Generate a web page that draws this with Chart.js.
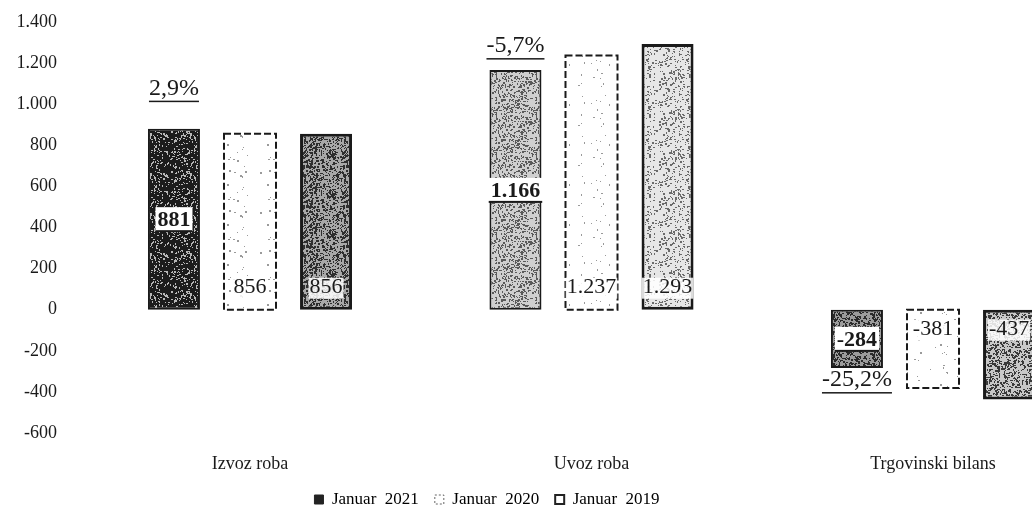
<!DOCTYPE html>
<html>
<head>
<meta charset="utf-8">
<script src="https://cdn.jsdelivr.net/npm/chart.js@4/dist/chart.umd.min.js"></script>
<style>
  html, body { margin: 0; padding: 0; background: #fff; overflow: hidden; }
  #wrap { width: 1032px; height: 525px; }
</style>
</head>
<body>
<div id="wrap"><canvas id="chart" width="1032" height="525"></canvas></div>
<script>
// ---------- Data ----------
const categories = ["Izvoz roba", "Uvoz roba", "Trgovinski bilans"];
const seriesNames = ["Januar  2021", "Januar  2020", "Januar  2019"];
const jan2021 = [881, 1166, -284];
const jan2020 = [856, 1237, -381];
const jan2019 = [856, 1293, -437];
const changeLabels = ["2,9%", "-5,7%", "-25,2%"];
const yTickValues = [1400, 1200, 1000, 800, 600, 400, 200, 0, -200, -400, -600];

// distance of the % label from the bar end (px)
const changeOffsets = [40, 24, 12];

// ---------- Helpers ----------
const SERIF = "'Liberation Serif', 'DejaVu Serif', serif";
const INK = "#1a1a1a";

function fmt(v) {
  const s = String(Math.abs(v)).replace(/\B(?=(\d{3})+(?!\d))/g, ".");
  return (v < 0 ? "-" : "") + s;
}

// scanned-looking speckle fill, deterministic
function speckle(base, dot, density, seed) {
  const c = document.createElement("canvas");
  c.width = 40; c.height = 40;
  const g = c.getContext("2d");
  g.fillStyle = base;
  g.fillRect(0, 0, 40, 40);
  let s = seed;
  const next = () => (s = (s * 16807) % 2147483647) / 2147483647;
  g.fillStyle = dot;
  const n = Math.floor(1600 * density);
  for (let i = 0; i < n; i++) {
    const x = Math.floor(next() * 40);
    const y = Math.floor(next() * 40);
    g.fillRect(x, y, next() > 0.6 ? 2 : 1, next() > 0.7 ? 2 : 1);
  }
  return g.createPattern(c, "repeat");
}

const fill2021 = [
  speckle("#1c1c1c", "#b8b8b8", 0.12, 11),
  speckle("#cfcfcf", "#5a5a5a", 0.22, 23),
  speckle("#9c9c9c", "#2a2a2a", 0.25, 37)
];
const fill2020 = [
  speckle("#ffffff", "#9a9a9a", 0.01, 41),
  speckle("#ffffff", "#9a9a9a", 0.01, 53),
  speckle("#ffffff", "#9a9a9a", 0.01, 67)
];
const fill2019 = [
  speckle("#a8a8a8", "#2e2e2e", 0.3, 71),
  speckle("#e6e6e6", "#6a6a6a", 0.12, 83),
  speckle("#c8c8c8", "#3a3a3a", 0.25, 97)
];

// ---------- Plugins ----------
const dashedBars = {
  id: "dashedBars",
  afterDatasetsDraw(chart) {
    const meta = chart.getDatasetMeta(1);
    const ctx = chart.ctx;
    ctx.save();
    ctx.strokeStyle = INK;
    ctx.lineWidth = 2;
    ctx.setLineDash([7, 3]);
    meta.data.forEach((el) => {
      const { x, y, base, width } = el.getProps(["x", "y", "base", "width"], true);
      const top = Math.min(y, base);
      ctx.strokeRect(x - width / 2, top, width, Math.abs(base - y));
    });
    ctx.restore();
  }
};

const valueLabels = {
  id: "valueLabels",
  afterDatasetsDraw(chart) {
    const ctx = chart.ctx;
    ctx.save();
    ctx.textAlign = "center";
    ctx.textBaseline = "middle";

    chart.data.datasets.forEach((ds, di) => {
      const meta = chart.getDatasetMeta(di);
      meta.data.forEach((el, i) => {
        const v = ds.data[i];
        const { x, y, base } = el.getProps(["x", "y", "base"], true);
        const text = fmt(v);
        if (di === 0) {
          // current year: boxed, bold, centred in the bar
          ctx.font = "bold 22px " + SERIF;
          const w = ctx.measureText(text).width;
          const cy = (y + base) / 2;
          ctx.fillStyle = "#fff";
          ctx.fillRect(x - w / 2 - 2, cy - 12, w + 4, 24);
          ctx.fillStyle = INK;
          ctx.fillText(text, x, cy + 1);
          ctx.fillRect(x - w / 2 - 2, cy + 11, w + 4, 2);
        } else {
          ctx.font = "22px " + SERIF;
          const w = ctx.measureText(text).width;
          const cy = v >= 0 ? base - 22 : base + 20;
          ctx.fillStyle = "rgba(255,255,255,0.85)";
          ctx.fillRect(x - w / 2 - 1, cy - 10, w + 2, 21);
          ctx.fillStyle = INK;
          ctx.fillText(text, x, cy);
        }
      });
    });

    // year-on-year change, underlined
    const meta0 = chart.getDatasetMeta(0);
    ctx.font = "24px " + SERIF;
    meta0.data.forEach((el, i) => {
      const v = chart.data.datasets[0].data[i];
      const { x, y } = el.getProps(["x", "y"], true);
      const cy = v >= 0 ? y - changeOffsets[i] : y + changeOffsets[i];
      const t = changeLabels[i];
      const w = ctx.measureText(t).width;
      ctx.fillStyle = INK;
      ctx.fillText(t, x, cy);
      ctx.fillRect(x - w / 2, cy + 12, w, 1.5);
    });
    ctx.restore();
  }
};

// ---------- Chart ----------
const ctx = document.getElementById("chart").getContext("2d");

new Chart(ctx, {
  type: "bar",
  data: {
    labels: categories,
    datasets: [
      {
        label: seriesNames[0],
        data: jan2021,
        backgroundColor: fill2021,
        borderColor: INK,
        borderWidth: 2,
        borderSkipped: false,
        clip: false
      },
      {
        label: seriesNames[1],
        data: jan2020,
        backgroundColor: fill2020,
        borderWidth: 0,
        clip: false
      },
      {
        label: seriesNames[2],
        data: jan2019,
        backgroundColor: fill2019,
        borderColor: INK,
        borderWidth: 3,
        borderSkipped: false,
        clip: false
      }
    ]
  },
  options: {
    responsive: false,
    animation: false,
    categoryPercentage: 0.668,
    barPercentage: 0.684,
    layout: { padding: { left: 0, right: 58, top: 22, bottom: 7 } },
    plugins: {
      tooltip: { enabled: false },
      legend: {
        position: "bottom",
        labels: {
          font: { family: SERIF, size: 17 },
          color: INK,
          boxWidth: 9,
          boxHeight: 9,
          padding: 16,
          generateLabels() {
            return [
              { text: seriesNames[0], fillStyle: "#222", strokeStyle: "#222", lineWidth: 1, datasetIndex: 0 },
              { text: seriesNames[1], fillStyle: "#fff", strokeStyle: "#666", lineWidth: 1, lineDash: [2, 2], datasetIndex: 1 },
              { text: seriesNames[2], fillStyle: "#fff", strokeStyle: "#222", lineWidth: 2, datasetIndex: 2 }
            ];
          }
        }
      }
    },
    scales: {
      x: {
        offset: false,
        grid: { display: false, drawTicks: false },
        border: { display: false },
        ticks: {
          color: INK,
          font: { family: SERIF, size: 18 },
          padding: 20,
          maxRotation: 0,
          autoSkip: false
        },
        afterFit(scale) { scale.height = 42; }
      },
      y: {
        min: -600,
        max: 1400,
        grid: { display: false, drawTicks: false },
        border: { display: false },
        afterBuildTicks(scale) {
          scale.ticks = yTickValues.map((v) => ({ value: v }));
        },
        ticks: {
          color: INK,
          font: { family: SERIF, size: 18 },
          padding: 193,
          callback: (v) => fmt(v)
        },
        afterFit(scale) {
          scale.width = 250;
          // the big tick padding only shifts labels sideways
          scale.paddingTop = 10;
          scale.paddingBottom = 10;
        }
      },
      // empty spacer on the right, keeps the legend where the original has it
      spacer: {
        type: "linear",
        position: "right",
        grid: { display: false, drawTicks: false },
        border: { display: false },
        ticks: { display: false },
        afterFit(scale) {
          scale.width = 41;
          scale.paddingTop = 0;
          scale.paddingBottom = 0;
        }
      }
    }
  },
  plugins: [dashedBars, valueLabels]
});
</script>
</body>
</html>
